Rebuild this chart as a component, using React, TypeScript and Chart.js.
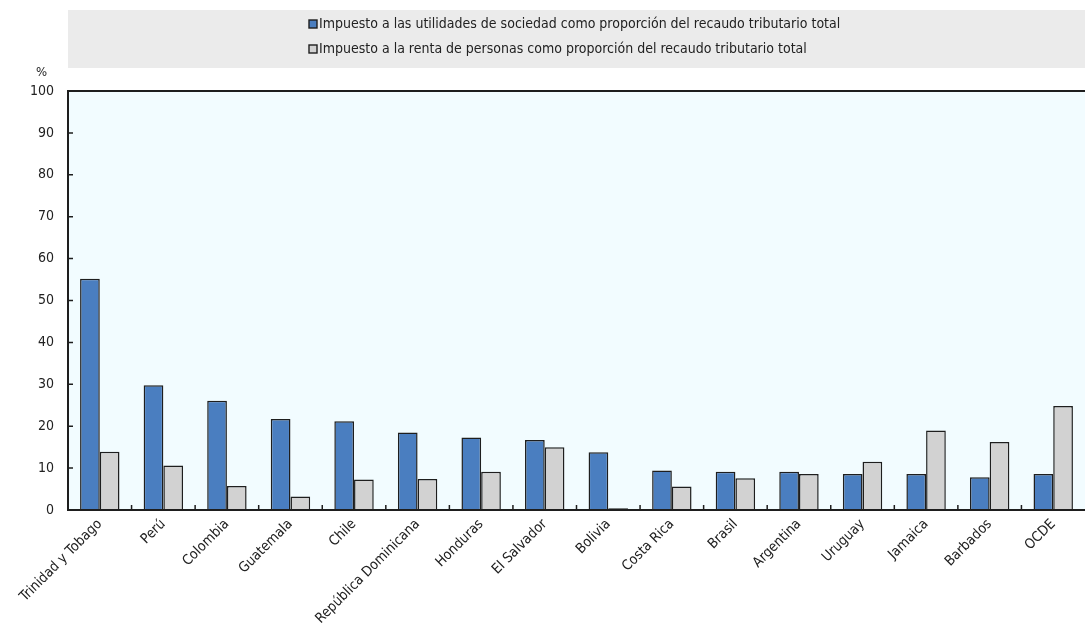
import React, { useEffect, useRef } from "react";
import { Chart, registerables } from "chart.js";

Chart.register(...registerables);

const categories = [
  "Trinidad y Tobago", "Perú", "Colombia", "Guatemala", "Chile", "República Dominicana",
  "Honduras", "El Salvador", "Bolivia", "Costa Rica", "Brasil", "Argentina",
  "Uruguay", "Jamaica", "Barbados", "OCDE",
];
const corporateTax = [55.2, 29.8, 26.1, 21.7, 21.2, 18.5, 17.3, 16.7, 13.8, 9.4, 9.1, 9.1, 8.6, 8.6, 7.8, 8.6];
const personalTax = [13.9, 10.6, 5.7, 3.2, 7.3, 7.4, 9.1, 15.0, 0.4, 5.6, 7.6, 8.6, 11.5, 19.0, 16.2, 24.8];
const seriesLabels = [
  "Impuesto a las utilidades de sociedad como proporción del recaudo tributario total",
  "Impuesto a la renta de personas como proporción del recaudo tributario total",
];
const yTicks = [0, 10, 20, 30, 40, 50, 60, 70, 80, 90, 100];

const FONT = "'DejaVu Sans Condensed', 'Liberation Sans', sans-serif";
const BLUE = "#4a7ec0";
const GREY = "#d2d2d2";
const EDGE = "#1e1e1e";

const decorPlugin = {
  id: "decor",
  beforeDraw(chart: any) {
    const { ctx, chartArea } = chart;
    ctx.save();
    ctx.fillStyle = "#ebebeb";
    ctx.fillRect(chartArea.left, 10, chart.width - chartArea.left, 58);
    ctx.fillStyle = "#f2fcff";
    ctx.fillRect(chartArea.left, chartArea.top, chartArea.right - chartArea.left, chartArea.bottom - chartArea.top);
    ctx.restore();
  },
  afterDraw(chart: any) {
    const { ctx, chartArea } = chart;
    const xs = chart.scales.x;
    const ys = chart.scales.y;
    ctx.save();
    ctx.strokeStyle = EDGE;
    ctx.lineWidth = 2;
    ctx.beginPath();
    ctx.moveTo(chart.width, chartArea.top);
    ctx.lineTo(chartArea.left, chartArea.top);
    ctx.lineTo(chartArea.left, chartArea.bottom);
    ctx.lineTo(chart.width, chartArea.bottom);
    ctx.stroke();
    ctx.lineWidth = 1.5;
    ctx.beginPath();
    yTicks.forEach((v) => {
      if (v === 0 || v === 100) return;
      const y = ys.getPixelForValue(v);
      ctx.moveTo(chartArea.left, y);
      ctx.lineTo(chartArea.left + 5, y);
    });
    for (let i = 1; i < categories.length; i++) {
      const x = (xs.getPixelForTick(i - 1) + xs.getPixelForTick(i)) / 2;
      ctx.moveTo(x, chartArea.bottom);
      ctx.lineTo(x, chartArea.bottom - 5);
    }
    ctx.stroke();
    ctx.fillStyle = "#222";
    ctx.font = `13px ${FONT}`;
    ctx.textAlign = "left";
    ctx.textBaseline = "middle";
    ctx.fillText("%", 36, 73);
    const lx = 309;
    const rows = [24, 49];
    chart.data.datasets.forEach((ds: any, i: number) => {
      const y = rows[i];
      ctx.fillStyle = ds.backgroundColor;
      ctx.fillRect(lx, y - 4, 8, 8);
      ctx.strokeStyle = EDGE;
      ctx.lineWidth = 1.4;
      ctx.strokeRect(lx, y - 4, 8, 8);
      ctx.fillStyle = "#222";
      ctx.font = `14px ${FONT}`;
      ctx.textBaseline = "middle";
      ctx.fillText(ds.label, lx + 10, y);
    });
    ctx.restore();
  },
};

export default function App() {
  const ref = useRef<HTMLCanvasElement>(null);
  useEffect(() => {
    if (!ref.current) return;
    const chart = new Chart(ref.current, {
      type: "bar",
      data: {
        labels: categories,
        datasets: [
          {
            label: seriesLabels[0],
            data: corporateTax,
            backgroundColor: BLUE,
            borderColor: EDGE,
            borderWidth: 1.5,
          },
          {
            label: seriesLabels[1],
            data: personalTax,
            backgroundColor: GREY,
            borderColor: EDGE,
            borderWidth: 1.5,
          },
        ],
      },
      options: {
        animation: false,
        responsive: false,
        maintainAspectRatio: false,
        layout: { padding: { top: 91, right: 0, left: 0, bottom: 0 } },
        plugins: {
          legend: { display: false },
          tooltip: { enabled: false },
        },
        datasets: { bar: { categoryPercentage: 0.62, barPercentage: 1 } },
        scales: {
          x: {
            grid: { display: false, drawTicks: false },
            border: { display: false },
            ticks: {
              maxRotation: 45,
              minRotation: 45,
              padding: 6,
              color: "#222",
              font: { family: FONT, size: 14 },
              autoSkip: false,
            },
            afterFit: (s: any) => {
              s.height = 117;
            },
          },
          y: {
            min: 0,
            max: 100,
            grid: { display: false, drawTicks: false },
            border: { display: false },
            afterBuildTicks: (s: any) => {
              s.ticks = yTicks.map((v) => ({ value: v }));
            },
            ticks: {
              padding: 14,
              color: "#222",
              font: { family: FONT, size: 14 },
            },
            afterFit: (s: any) => {
              s.width = 68;
            },
          },
        },
      },
      plugins: [decorPlugin],
    });
    return () => chart.destroy();
  }, []);
  return (
    <div style={{ position: "absolute", left: 0, top: 0, width: 1085, height: 627, background: "#fff" }}>
      <canvas ref={ref} width={1085} height={627} style={{ display: "block" }} />
    </div>
  );
}
